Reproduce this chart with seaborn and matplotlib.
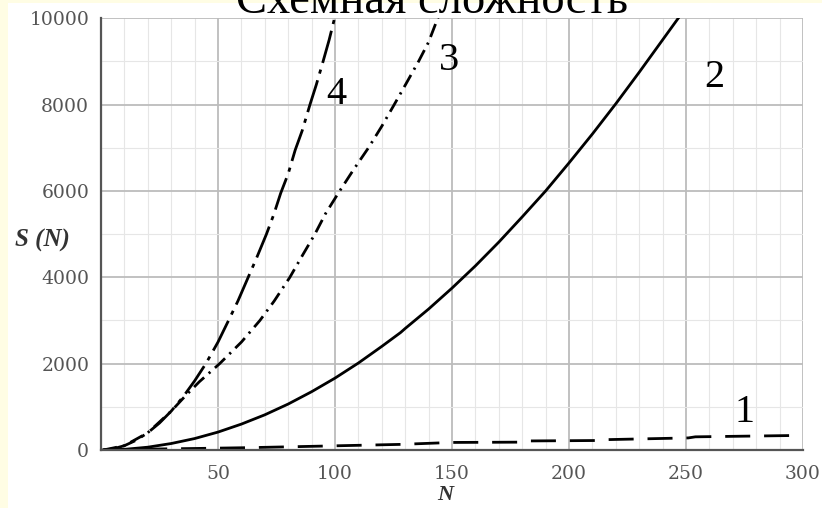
import matplotlib
matplotlib.use("Agg")
import matplotlib.pyplot as plt
from matplotlib.patches import Rectangle
from matplotlib.ticker import MultipleLocator
import pandas as pd
import seaborn as sns

# --- values ---
n1 = [1, 20, 40, 64, 90, 128, 150, 180, 183, 213, 216, 251, 254, 295]
s1 = [0, 20, 35, 55, 85, 130, 175, 182, 210, 220, 240, 280, 305, 335]

n2 = [0, 10, 20, 30, 40, 50, 60, 70, 80, 90, 100, 110, 120, 128, 130, 140, 150,
      160, 170, 180, 190, 200, 210, 220, 230, 240, 250]
s2 = [0, 15, 65, 150, 265, 415, 600, 815, 1065, 1350, 1665, 2015, 2400, 2720, 2815,
      3265, 3750, 4265, 4815, 5400, 6000, 6650, 7320, 8020, 8750, 9500, 10250]

n3 = [1, 10, 20, 30, 36, 42, 50.7, 60, 67.9, 74, 80.7, 86, 91.4, 96, 102, 108,
      114.3, 120, 125.3, 130, 135.7, 140, 143.9, 147]
s3 = [0, 100, 400, 900, 1250, 1580, 2000, 2500, 3000, 3450, 4000, 4500, 5000, 5480,
      6000, 6500, 7000, 7500, 8000, 8450, 9000, 9450, 10000, 10400]

n4 = [1, 5, 10, 15, 20, 25, 30, 35, 40, 44.8, 50, 54.5, 58.5, 62.5, 66.5, 70.7, 73.8,
      76.8, 80, 83, 86, 89.3, 92, 94.9, 97.5, 99.8, 102]
s4 = [0, 25, 100, 225, 400, 625, 900, 1225, 1600, 2000, 2500, 3000, 3450, 3950, 4450,
      5000, 5450, 5950, 6400, 6950, 7400, 8000, 8460, 9000, 9500, 10000, 10400]

curve_names = ["1", "2", "3", "4"]
label_pos_n = [274.8, 262, 148.7, 100.4]
label_pos_s = [880, 8640, 9011, 8246]

x_ticks = [50, 100, 150, 200, 250, 300]
y_ticks = [0, 2000, 4000, 6000, 8000, 10000]

title = "Схемная сложность"

df = pd.concat([
    pd.DataFrame({"N": n, "S": s, "curve": c})
    for n, s, c in zip([n1, n2, n3, n4], [s1, s2, s3, s4], curve_names)
])

sns.set_style("white")
plt.rcParams["font.family"] = ["DejaVu Serif"]

fig, ax = plt.subplots(figsize=(8.22, 5.08), dpi=100)
fig.subplots_adjust(left=101 / 822, right=803 / 822, bottom=58 / 508, top=1 - 18.3 / 508)

# pale yellow border of the original screenshot
fig.patches.append(Rectangle((0, 0), 8 / 822, 1, transform=fig.transFigure,
                             facecolor="#fffde4", edgecolor="none", zorder=-1))
fig.patches.append(Rectangle((0, 1 - 3 / 508), 1, 3 / 508, transform=fig.transFigure,
                             facecolor="#fffde4", edgecolor="none", zorder=-1))

sns.lineplot(
    data=df, x="N", y="S", hue="curve", style="curve",
    palette={c: "black" for c in curve_names},
    dashes={"1": (9, 5), "2": "", "3": (5, 2.2, 0.8, 2.2), "4": (12, 2.5, 1.5, 2.5)},
    linewidth=2.0, estimator=None, errorbar=None, legend=False, ax=ax,
)

ax.set_xlim(0, 300)
ax.set_ylim(0, 10000)
ax.set_xticks(x_ticks)
ax.set_yticks(y_ticks)
ax.xaxis.set_minor_locator(MultipleLocator(10))
ax.yaxis.set_minor_locator(MultipleLocator(1000))

ax.grid(which="major", color="#bcbcbc", linewidth=1.3)
ax.grid(which="minor", color="#e6e6e6", linewidth=0.8)
ax.set_axisbelow(True)

ax.tick_params(which="major", direction="out", length=5, width=1.2,
               color="#555555", labelcolor="#555555", labelsize=13.5)
ax.tick_params(axis="x", which="major", pad=5.5)
ax.tick_params(axis="y", which="major", pad=3.5)
ax.tick_params(which="minor", direction="out", length=3, width=1, color="#555555")

for side in ["top", "right"]:
    ax.spines[side].set_visible(False)
for side in ["left", "bottom"]:
    ax.spines[side].set_color("#555555")
    ax.spines[side].set_linewidth(1.6)

ax.set_xlabel("N", fontsize=16, fontweight="bold", style="italic",
              family="Liberation Serif", color="#333333", va="center")
ax.xaxis.set_label_coords(0.49, -0.104)
ax.set_ylabel("S (N)", rotation=0, fontsize=18, fontweight="bold", style="italic",
              family="Liberation Serif", color="#333333", ha="center", va="center")
ax.yaxis.set_label_coords(-0.084, 0.486)

for name, xn, ys in zip(curve_names, label_pos_n, label_pos_s):
    ax.text(xn, ys, name, fontsize=29, family="Liberation Serif",
            ha="center", va="center", color="black")

fig.text(432 / 822, 1 - 13 / 508, title, fontsize=33.5, family="Liberation Serif",
         ha="center", va="baseline", color="black")

fig.savefig("out.png", dpi=100)
